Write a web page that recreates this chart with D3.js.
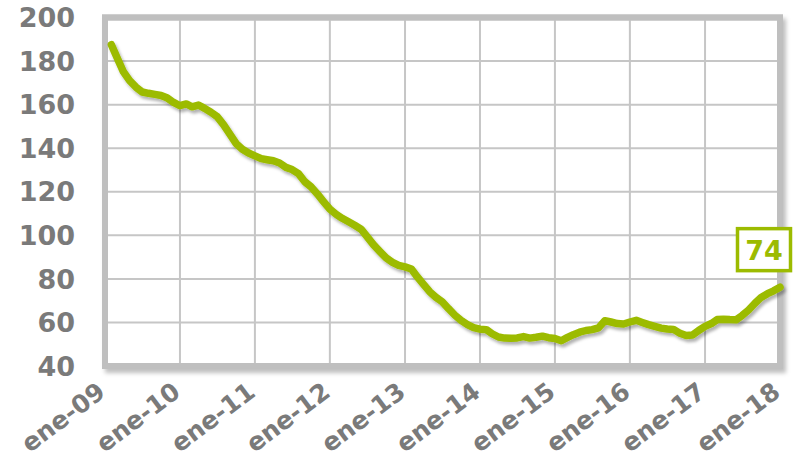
<!DOCTYPE html>
<html>
<head>
<meta charset="utf-8">
<script src="https://cdn.jsdelivr.net/npm/d3@7"></script>
<style>
  body { margin: 0; background: #fff; }
  svg { display: block; }
</style>
</head>
<body>
<script>
// monthly values, feb-09 .. ene-18
const firstMonth = new Date(2009, 1, 1);
const values = [
  187.5, 181.5, 175, 171, 168, 165.8, 165.2, 164.7, 164.2, 163, 161,
  159.5, 160.3, 159, 159.8, 158.3, 156.5, 154.5, 150.8, 146.5, 142.2, 139.5, 137.8,
  136.5, 135.2, 134.7, 134.2, 133.2, 131.2, 130.2, 128.3, 124.6, 122.3, 119, 115.5,
  112, 109.6, 107.8, 106.2, 104.6, 102.8, 99.3, 95.6, 92.5, 89.6, 87.6, 86.2,
  85.5, 84.5, 81, 77.5, 74.1, 71.5, 69.5, 66.3, 63.3, 60.9, 59, 57.6,
  56.9, 56.7, 54.8, 53.3, 52.8, 52.7, 52.9, 53.5, 52.8, 53.2, 53.7, 53,
  52.6, 51.6, 53, 54.4, 55.5, 56.3, 56.7, 57.5, 60.8, 60.2, 59.5, 59.3,
  60.2, 61, 60, 59, 58.2, 57.4, 57, 56.8, 55, 54, 54.2, 56.3,
  58.2, 59.5, 61.3, 61.5, 61.3, 61.2, 63.2, 65.7, 68.8, 71.5, 73.2, 74.5,
  76.2
];
const yTicks = [40, 60, 80, 100, 120, 140, 160, 180, 200];
const xTickYears = [2009, 2010, 2011, 2012, 2013, 2014, 2015, 2016, 2017, 2018];
const xTickLabels = ["ene-09", "ene-10", "ene-11", "ene-12", "ene-13", "ene-14", "ene-15", "ene-16", "ene-17", "ene-18"];
const lastLabel = "74";

const width = 798, height = 458;
const plot = { left: 105, right: 780, top: 17.5, bottom: 366 };
const green = "#9cbb00";
const grey = "#7a7a7a";

const data = values.map((v, i) => ({ date: d3.timeMonth.offset(firstMonth, i), value: v }));

const svg = d3.select("body").append("svg")
    .attr("width", width)
    .attr("height", height);

const defs = svg.append("defs");
defs.append("filter").attr("id", "frameShadow")
    .attr("x", "-5%").attr("y", "-5%").attr("width", "115%").attr("height", "115%")
  .append("feDropShadow")
    .attr("dx", 3).attr("dy", 4).attr("stdDeviation", 2)
    .attr("flood-color", "#000").attr("flood-opacity", 0.25);
defs.append("filter").attr("id", "lineShadow")
    .attr("x", "-5%").attr("y", "-5%").attr("width", "115%").attr("height", "115%")
  .append("feDropShadow")
    .attr("dx", 2).attr("dy", 3).attr("stdDeviation", 1.5)
    .attr("flood-color", "#000").attr("flood-opacity", 0.3);

const x = d3.scaleTime()
    .domain([new Date(2009, 0, 1), new Date(2018, 0, 1)])
    .range([plot.left, plot.right]);

const y = d3.scaleLinear()
    .domain([40, 200])
    .range([plot.bottom, plot.top]);

// outer frame with shadow
svg.append("rect")
    .attr("x", plot.left).attr("y", plot.top)
    .attr("width", plot.right - plot.left).attr("height", plot.bottom - plot.top)
    .attr("fill", "#fff")
    .attr("stroke", "#bfbfbf")
    .attr("stroke-width", 6)
    .attr("filter", "url(#frameShadow)");

// grid
svg.append("g")
  .selectAll("line")
  .data(yTicks.slice(1, -1))
  .join("line")
    .attr("x1", plot.left).attr("x2", plot.right)
    .attr("y1", d => y(d)).attr("y2", d => y(d))
    .attr("stroke", "#c6c6c6").attr("stroke-width", 2);

svg.append("g")
  .selectAll("line")
  .data(xTickYears.slice(1, -1))
  .join("line")
    .attr("x1", d => x(new Date(d, 0, 1))).attr("x2", d => x(new Date(d, 0, 1)))
    .attr("y1", plot.top).attr("y2", plot.bottom)
    .attr("stroke", "#c6c6c6").attr("stroke-width", 2);

// frame border again on top of grid
svg.append("rect")
    .attr("x", plot.left).attr("y", plot.top)
    .attr("width", plot.right - plot.left).attr("height", plot.bottom - plot.top)
    .attr("fill", "none")
    .attr("stroke", "#bfbfbf")
    .attr("stroke-width", 6);

// y labels
svg.append("g")
  .selectAll("text")
  .data(yTicks)
  .join("text")
    .attr("x", 75)
    .attr("y", d => y(d))
    .attr("dy", "0.36em")
    .attr("text-anchor", "end")
    .attr("font-family", "DejaVu Sans, Verdana, sans-serif")
    .attr("font-weight", "bold")
    .attr("font-size", 27)
    .attr("fill", grey)
    .text(d => d);

// x labels, rotated
svg.append("g")
  .selectAll("text")
  .data(xTickYears)
  .join("text")
    .attr("transform", d => `translate(${x(new Date(d, 0, 1)) + 2}, 395) rotate(-37)`)
    .attr("text-anchor", "end")
    .attr("font-family", "DejaVu Sans, Verdana, sans-serif")
    .attr("font-weight", "bold")
    .attr("font-size", 25)
    .attr("fill", grey)
    .text((d, i) => xTickLabels[i]);

// the series line
const line = d3.line()
    .x(d => x(d.date))
    .y(d => y(d.value));

svg.append("path")
    .datum(data)
    .attr("d", line)
    .attr("fill", "none")
    .attr("stroke", green)
    .attr("stroke-width", 7.5)
    .attr("stroke-linejoin", "round")
    .attr("stroke-linecap", "round")
    .attr("filter", "url(#lineShadow)");

// last value label box
const last = data[data.length - 1];
const lx = x(last.date) - 16, ly = y(last.value) - 37;
const label = svg.append("g").attr("transform", `translate(${lx}, ${ly})`);
label.append("rect")
    .attr("x", -26.5).attr("y", -21.5)
    .attr("width", 53).attr("height", 42)
    .attr("fill", "#fff")
    .attr("stroke", green)
    .attr("stroke-width", 3.5);
label.append("text")
    .attr("text-anchor", "middle")
    .attr("dy", "0.36em")
    .attr("font-family", "DejaVu Sans, Verdana, sans-serif")
    .attr("font-weight", "bold")
    .attr("font-size", 27)
    .attr("fill", green)
    .text(lastLabel);
</script>
</body>
</html>
